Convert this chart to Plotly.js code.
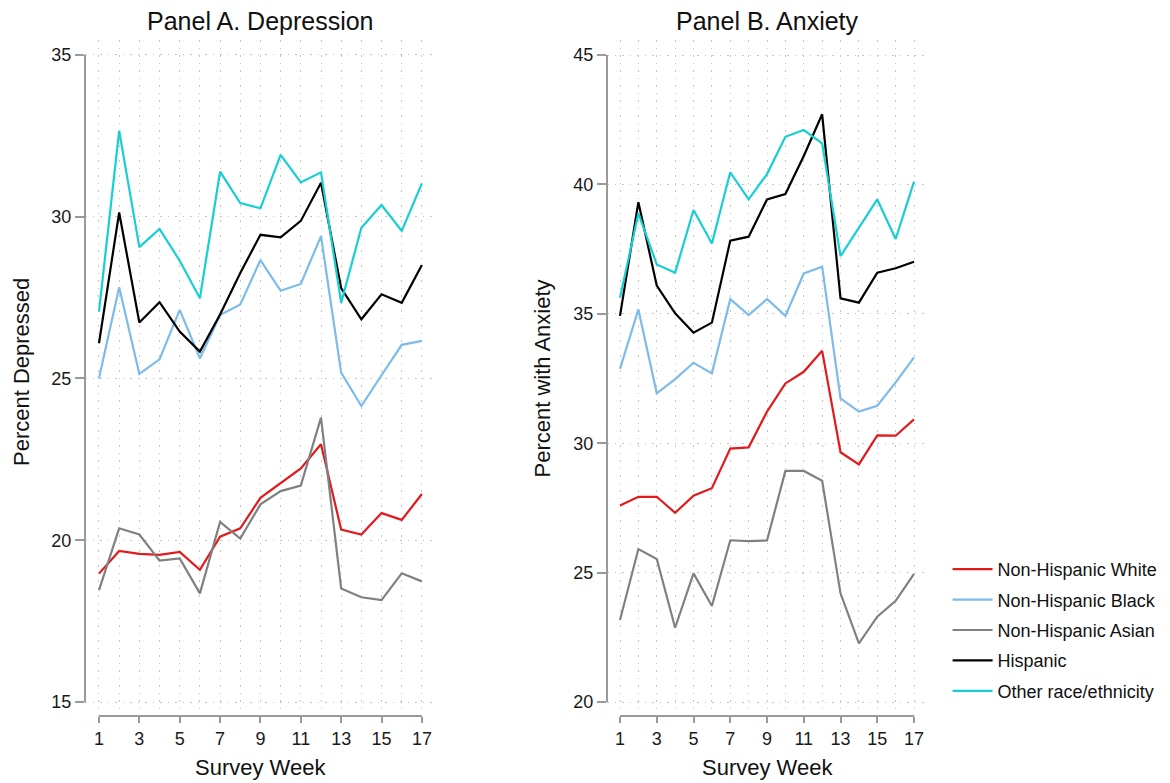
<!DOCTYPE html>
<html><head><meta charset="utf-8">
<script src="https://cdn.plot.ly/plotly-3.0.1.min.js"></script>
<style>html,body{margin:0;padding:0;background:#fff}#chart{width:1170px;height:783px}</style>
</head><body><div id="chart"></div>
<script>
// ---- data ----
const weeks = [1,2,3,4,5,6,7,8,9,10,11,12,13,14,15,16,17];
const weekTickVals = [1,3,5,7,9,11,13,15,17];
const weekTickText = ["1","3","5","7","9","11","13","15","17"];
const groups = ["Non-Hispanic White","Non-Hispanic Black","Non-Hispanic Asian","Hispanic","Other race/ethnicity"];
const depTicks = [15,20,25,30,35];
const anxTicks = [20,25,30,35,40,45];

// Panel A: Percent Depressed
const depWhite    = [18.97,19.67,19.58,19.55,19.64,19.09,20.11,20.37,21.31,21.76,22.22,22.97,20.33,20.18,20.84,20.63,21.43];
const depBlack    = [25.01,27.82,25.14,25.59,27.12,25.62,26.96,27.29,28.66,27.71,27.92,29.40,25.18,24.15,25.10,26.04,26.16];
const depAsian    = [18.46,20.37,20.18,19.37,19.44,18.36,20.57,20.05,21.11,21.52,21.69,23.79,18.51,18.24,18.15,18.98,18.73];
const depHispanic = [26.09,30.13,26.73,27.36,26.45,25.83,26.98,28.26,29.44,29.36,29.87,31.05,27.79,26.83,27.60,27.34,28.51];
const depOther    = [27.07,32.65,29.06,29.62,28.64,27.48,31.39,30.42,30.26,31.91,31.06,31.37,27.34,29.66,30.36,29.56,31.03];

// Panel B: Percent with Anxiety
const anxWhite    = [27.59,27.93,27.93,27.31,27.97,28.26,29.79,29.84,31.22,32.31,32.76,33.57,29.65,29.18,30.30,30.29,30.92];
const anxBlack    = [32.87,35.17,31.93,32.48,33.11,32.70,35.57,34.95,35.57,34.92,36.56,36.82,31.73,31.22,31.45,32.35,33.32];
const anxAsian    = [23.17,25.91,25.53,22.87,24.97,23.71,26.25,26.22,26.24,28.93,28.93,28.55,24.20,22.27,23.30,23.91,24.95];
const anxHispanic = [34.92,39.31,36.09,35.02,34.27,34.66,37.83,37.98,39.42,39.63,41.10,42.71,35.60,35.43,36.59,36.76,37.01];
const anxOther    = [35.62,38.88,36.91,36.59,39.01,37.72,40.47,39.42,40.40,41.84,42.10,41.59,37.23,38.30,39.42,37.89,40.11];

// ---- styles ----
const colors = ["#e31a1c","#7dbbea","#808080","#000000","#17cfd2"];
const FONT = "Liberation Sans, Arial, Helvetica, sans-serif";
const depSeries = [depWhite,depBlack,depAsian,depHispanic,depOther];
const anxSeries = [anxWhite,anxBlack,anxAsian,anxHispanic,anxOther];

const traces = [];
depSeries.forEach((s,i)=>traces.push({
  x: weeks, y: s, type:"scatter", mode:"lines", name: groups[i],
  legendgroup: "g"+i, showlegend: true,
  line:{color: colors[i], width: 2.2}, xaxis:"x", yaxis:"y"
}));
anxSeries.forEach((s,i)=>traces.push({
  x: weeks, y: s, type:"scatter", mode:"lines", name: groups[i],
  legendgroup: "g"+i, showlegend: false,
  line:{color: colors[i], width: 2.2}, xaxis:"x2", yaxis:"y2"
}));

const gridCol = "#c4c4c4";
const axisCol = "#9a9a9a";
function xAxis(domain, range, yref){
  return {domain, range, anchor: yref, tickmode:"array", tickvals: weekTickVals, ticktext: weekTickText,
    ticks:"outside", ticklen:6, tickwidth:2, tickcolor: axisCol, showline:false, zeroline:false,
    showgrid:true, gridcolor: gridCol, gridwidth:1, griddash:"1.5px,6px",
    minor:{dtick:1, showgrid:true, gridcolor: gridCol, gridwidth:1, griddash:"1.5px,6px", ticks:""},
    tickfont:{family:FONT, size:18, color:"#1a1a1a"}, fixedrange:true};
}
function yAxis(domain, range, ticks, xref){
  return {domain, range, anchor: xref, tickmode:"array", tickvals: ticks, ticktext: ticks.map(String),
    ticks:"outside", ticklen:9, tickwidth:2, tickcolor: axisCol, showline:false, zeroline:false,
    showgrid:true, gridcolor: gridCol, gridwidth:1, griddash:"1.5px,6px",
    tickfont:{family:FONT, size:18, color:"#1a1a1a"}, fixedrange:true};
}
const yDom = [1-716/783, 1-40/783];
const layout = {
  width:1170, height:783, margin:{l:0,r:0,t:0,b:0}, paper_bgcolor:"#fff", plot_bgcolor:"#fff",
  font:{family:FONT, color:"#111"},
  xaxis: xAxis([85/1170, 432/1170], [0.307, 17.5], "y"),
  yaxis: yAxis(yDom, [14.57, 35.46], depTicks, "x"),
  xaxis2: xAxis([607/1170, 928/1170], [0.2925, 17.76], "y2"),
  yaxis2: yAxis(yDom, [19.46, 45.58], anxTicks, "x2"),
  showlegend:true,
  legend:{x: 0.8099, xanchor:"left", y: 1-551/783, yanchor:"top", traceorder:"grouped", tracegroupgap:4,
    font:{family:FONT, size:18, color:"#111"}, bgcolor:"rgba(0,0,0,0)", borderwidth:0, itemwidth:40},
  shapes:[
    {type:"line", xref:"x domain", x0:0, x1:0, yref:"y", y0:depTicks[0], y1:depTicks[depTicks.length-1], line:{color:axisCol, width:2}},
    {type:"line", xref:"x", x0:weeks[0], x1:weeks[weeks.length-1], yref:"y domain", y0:0, y1:0, line:{color:axisCol, width:2}},
    {type:"line", xref:"x2 domain", x0:0, x1:0, yref:"y2", y0:anxTicks[0], y1:anxTicks[anxTicks.length-1], line:{color:axisCol, width:2}},
    {type:"line", xref:"x2", x0:weeks[0], x1:weeks[weeks.length-1], yref:"y2 domain", y0:0, y1:0, line:{color:axisCol, width:2}}
  ],
  annotations:[
    {text:"Panel A. Depression", xref:"x", x:9, yref:"paper", y:1-21/783, yanchor:"middle", showarrow:false, font:{family:FONT, size:25, color:"#111"}},
    {text:"Panel B. Anxiety", xref:"x2", x:9, yref:"paper", y:1-21/783, yanchor:"middle", showarrow:false, font:{family:FONT, size:25, color:"#111"}},
    {text:"Survey Week", xref:"x", x:9, yref:"paper", y:1-767/783, yanchor:"middle", showarrow:false, font:{family:FONT, size:22, color:"#111"}},
    {text:"Survey Week", xref:"x2", x:9, yref:"paper", y:1-767/783, yanchor:"middle", showarrow:false, font:{family:FONT, size:22, color:"#111"}},
    {text:"Percent Depressed", xref:"paper", x:21/1170, xanchor:"center", yref:"y", y:25.2, yanchor:"middle", textangle:-90, showarrow:false, font:{family:FONT, size:22, color:"#111"}},
    {text:"Percent with Anxiety", xref:"paper", x:543/1170, xanchor:"center", yref:"y2", y:32.5, yanchor:"middle", textangle:-90, showarrow:false, font:{family:FONT, size:22, color:"#111"}}
  ]
};
Plotly.newPlot("chart", traces, layout, {displayModeBar:false, staticPlot:true});
</script>
</body></html>
